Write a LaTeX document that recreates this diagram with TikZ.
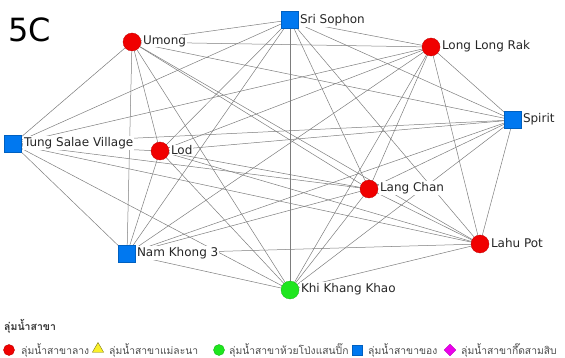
\documentclass[tikz,border=0pt]{standalone}
\usepackage{fontspec}
\setmainfont{DejaVu Sans}
\newfontfamily\thaifont[Script=Thai]{Loma}
\usetikzlibrary{backgrounds,shapes.geometric}
\definecolor{nred}{RGB}{240,0,0}
\definecolor{nblue}{RGB}{0,120,240}
\definecolor{ngreen}{RGB}{30,230,30}
\definecolor{nyellow}{RGB}{250,240,40}
\definecolor{nmag}{RGB}{235,0,235}
\definecolor{edgegray}{RGB}{125,125,125}
\tikzset{
  redv/.style={circle,fill=nred,draw=nred!80!black,line width=0.3pt,minimum size=18pt,inner sep=0pt},
  greenv/.style={circle,fill=ngreen,draw=ngreen!80!black,line width=0.3pt,minimum size=18pt,inner sep=0pt},
  bluev/.style={rectangle,fill=nblue,draw=nblue!80!black,line width=0.3pt,minimum size=17pt,inner sep=0pt},
  lbl/.style={anchor=west,fill=white,inner sep=0.8pt,font=\fontsize{12}{13}\selectfont,text=black!85},
  edge/.style={draw=edgegray,line width=0.5pt},
  legtxt/.style={anchor=west,inner sep=0pt,font=\thaifont\fontsize{10.3}{11}\selectfont,text=black!70},
}
\begin{document}
\begin{tikzpicture}[x=1pt,y=-1pt]
\useasboundingbox (0,0) rectangle (565,358);
\node[anchor=west,inner sep=0pt,font=\fontsize{32}{34}\selectfont] (title) at (8,30) {5C};
% vertices
\node[bluev]  (n1)  at (290,20)  {};
\node[redv]   (n2)  at (132,42)  {};
\node[redv]   (n3)  at (431,47)  {};
\node[bluev]  (n4)  at (513,120) {};
\node[bluev]  (n5)  at (13,144)  {};
\node[redv]   (n6)  at (160,151) {};
\node[redv]   (n7)  at (369,189) {};
\node[redv]   (n8)  at (480,244) {};
\node[bluev]  (n9)  at (127,254) {};
\node[greenv] (n10) at (290,290) {};
% edges (complete graph)
\begin{pgfonlayer}{background}
\foreach \i in {1,...,9}{
  \pgfmathtruncatemacro\s{\i+1}
  \foreach \j in {\s,...,10}{
    \draw[edge] (n\i.center) -- (n\j.center);
  }
}
\end{pgfonlayer}
% labels
\node[lbl] (l1)  at (299,20)  {Sri Sophon};
\node[lbl] (l2)  at (142,41)  {Umong};
\node[lbl] (l3)  at (441,46)  {Long Long Rak};
\node[lbl] (l4)  at (522,119) {Spirit};
\node[lbl] (l5)  at (23,143)  {Tung Salae Village};
\node[lbl] (l6)  at (170,150) {Lod};
\node[lbl] (l7)  at (379,188) {Lang Chan};
\node[lbl] (l8)  at (490,243) {Lahu Pot};
\node[lbl] (l9)  at (136,253) {Nam Khong 3};
\node[lbl] (l10) at (300,289) {Khi Khang Khao};
% legend
\node[anchor=west,inner sep=0pt,font=\thaifont\bfseries\fontsize{10.5}{11}\selectfont,text=black!80] (lt) at (4,326) {ลุ่มน้ำสาขา};
\node[circle,fill=nred,draw=nred!80!black,minimum size=11pt,inner sep=0pt] (m1) at (9,350) {};
\node[legtxt] (t1) at (21,350) {ลุ่มน้ำสาขาลาง};
\node[regular polygon,regular polygon sides=3,fill=nyellow,draw=black!50!nyellow,minimum size=13pt,inner sep=0pt] (m2) at (98,349) {};
\node[legtxt] (t2) at (109,350) {ลุ่มน้ำสาขาแม่ละนา};
\node[circle,fill=ngreen,draw=ngreen!80!black,minimum size=11pt,inner sep=0pt] (m3) at (219,350) {};
\node[legtxt] (t3) at (229,350) {ลุ่มน้ำสาขาห้วยโป่งแสนปิ๊ก};
\node[rectangle,fill=nblue,draw=nblue!80!black,minimum size=10pt,inner sep=0pt] (m4) at (357,350) {};
\node[legtxt] (t4) at (368,350) {ลุ่มน้ำสาขาของ};
\node[diamond,fill=nmag,draw=nmag!80!black,minimum size=12pt,inner sep=0pt] (m5) at (450,350) {};
\node[legtxt] (t5) at (461,350) {ลุ่มน้ำสาขากึ๊ดสามสิบ};
\end{tikzpicture}
\end{document}
